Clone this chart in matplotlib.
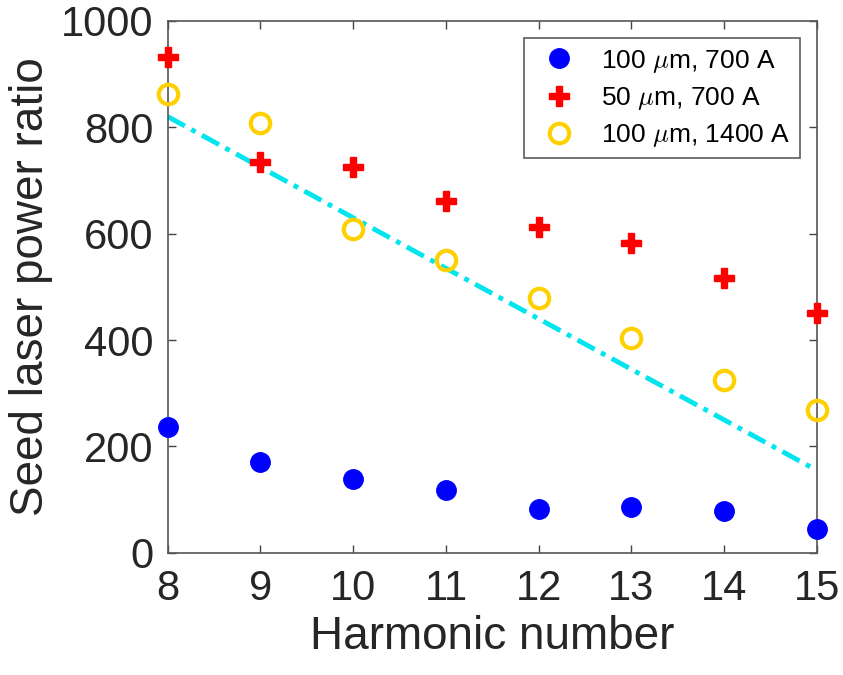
import matplotlib
matplotlib.use("Agg")
import matplotlib.pyplot as plt

harmonic = [8, 9, 10, 11, 12, 13, 14, 15]
ratio_100um_700A = [237, 171, 139, 118, 83, 86, 79, 45]
ratio_50um_700A = [932, 735, 726, 662, 613, 583, 517, 451]
ratio_100um_1400A = [863, 808, 609, 551, 479, 404, 325, 269]
fit_x = [8, 15]
fit_y = [820, 155]

plt.rcParams['font.family'] = ['Liberation Sans', 'DejaVu Sans']
plt.rcParams['mathtext.fontset'] = 'cm'
txt = '#262626'

fig = plt.figure(figsize=(8.43, 6.75), dpi=100)
ax = fig.add_axes([0.199, 0.181, 0.770, 0.788])

ax.plot(fit_x, fit_y, color='#00e5ee', lw=3.5, ls=(0, (4, 1.5, 1, 1.5)), zorder=1, label='_fit')
ax.plot(harmonic, ratio_100um_700A, 'o', color='#0000ff', ms=14, mec='#0000ff',
        label=r'100 $\mu$m, 700 A', clip_on=False, zorder=3)
ax.plot(harmonic, ratio_50um_700A, 'P', color='#ff0000', ms=14, mec='#ff0000',
        label=r'50 $\mu$m, 700 A', clip_on=False, zorder=3)
ax.plot(harmonic, ratio_100um_1400A, 'o', mfc='none', mec='#ffd000', mew=3, ms=14,
        label=r'100 $\mu$m, 1400 A', clip_on=False, zorder=3)

ax.set_xlim(8, 15)
ax.set_ylim(0, 1000)
ax.set_xticks(range(8, 16))
ax.set_yticks(range(0, 1001, 200))
ax.tick_params(direction='in', top=True, right=True, length=6, width=1,
               labelsize=30, labelcolor=txt, color='#444444')
ax.tick_params(axis='x', pad=12)
ax.tick_params(axis='y', pad=10)
for s in ax.spines.values():
    s.set_color('#555555')
    s.set_linewidth(1.2)
ax.set_xlabel('Harmonic number', fontsize=33, color=txt, labelpad=4)
ax.set_ylabel('Seed laser power ratio', fontsize=33, color=txt, labelpad=6)

leg = ax.legend(loc='upper right', bbox_to_anchor=(0.974, 0.967), fontsize=19,
                frameon=True, fancybox=False, edgecolor='#333333',
                borderpad=0.35, handletextpad=0.6, labelspacing=0.38, handlelength=2.0,
                borderaxespad=0)
leg.get_frame().set_linewidth(1.2)
for t in leg.get_texts():
    t.set_color('black')

fig.savefig('out.png', dpi=100)
